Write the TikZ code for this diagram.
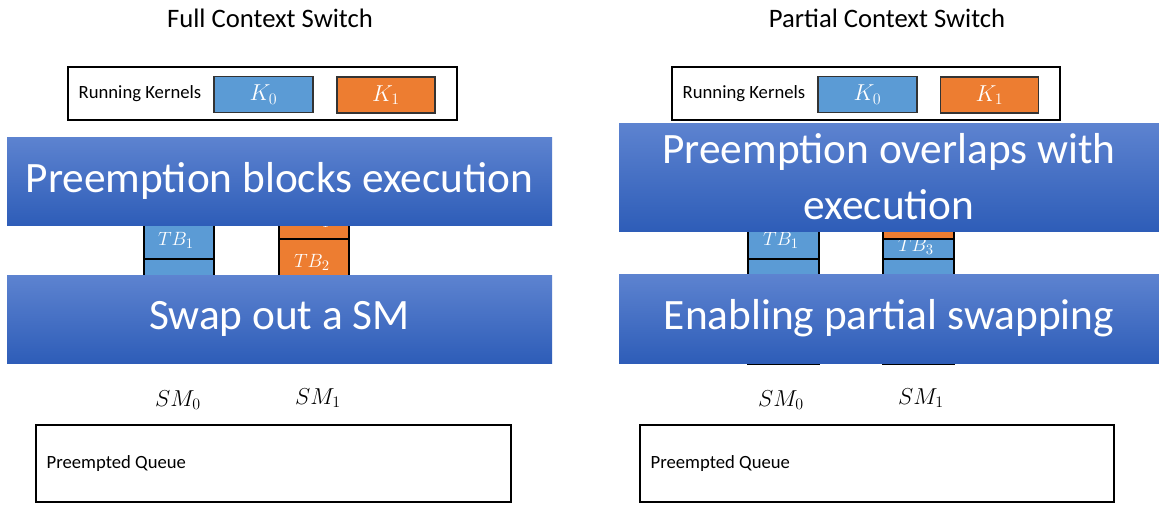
\documentclass[tikz,border=0pt]{standalone}
\usepackage{fontspec}
\setmainfont{Carlito}
\definecolor{tbblue}{RGB}{91,155,213}
\definecolor{tborange}{RGB}{237,125,49}
\definecolor{bantop}{RGB}{93,131,208}
\definecolor{banbot}{RGB}{46,93,184}
\begin{document}
\begin{tikzpicture}[x=0.75pt,y=-0.75pt,
  titletext/.style={font=\fontsize{20}{24}\selectfont},
  smalltext/.style={font=\fontsize{14}{17}\selectfont},
  framebox/.style={draw=black,line width=0.8pt,fill=white},
  kbox/.style={draw=black!80,line width=0.8pt,text=white,font=\fontsize{18}{21}\selectfont},
  tbblue/.style={draw=black,line width=0.9pt,fill=tbblue},
  tborange/.style={draw=black,line width=0.9pt,fill=tborange},
  tblabel/.style={text=white,font=\fontsize{15.5}{18}\selectfont},
  banner/.style={top color=bantop,bottom color=banbot,draw=none,text=white,
     font=\fontsize{32.5}{42}\selectfont,align=center},
  smlabel/.style={font=\fontsize{16.5}{19}\selectfont}]
\useasboundingbox[fill=white] (0,0) rectangle (1159,507);

% ---------- Left panel ----------
\node[titletext] (tl) at (270,18) {Full Context Switch};
\draw[framebox] (68,67) rectangle (457,120);
\node[smalltext,anchor=west] (rkl) at (74,94) {Running Kernels};
\node[kbox,fill=tbblue,minimum width=99*0.75pt,minimum height=36*0.75pt,inner sep=0pt] (k0l) at (263.5,94.5) {$K_0$};
\node[kbox,fill=tborange,minimum width=98*0.75pt,minimum height=36*0.75pt,inner sep=0pt] (k1l) at (386,95) {$K_1$};

% columns
\draw[tbblue] (144,221) rectangle (214,259);
\node[tblabel] (tb1l) at (176,240) {$TB_1$};
\draw[tbblue] (144,259) rectangle (214,330);
\draw[tborange] (279,201) rectangle (349,239);
\node[tblabel] (tb1lo) at (312,219) {$TB_1$};
\draw[tborange] (279,239) rectangle (349,300);
\node[tblabel] (tb2l) at (312,262) {$TB_2$};

\node[banner,minimum width=545*0.75pt,minimum height=88*0.75pt,inner sep=0pt] (b1l) at (279.5,181) {Preemption blocks execution};
\node[banner,minimum width=545*0.75pt,minimum height=88*0.75pt,inner sep=0pt] (b2l) at (279.5,319) {Swap out a SM};

\node[smlabel] (sm0l) at (178,400) {$SM_0$};
\node[smlabel] (sm1l) at (318,398) {$SM_1$};

\draw[framebox] (36,425) rectangle (511,502);
\node[smalltext,anchor=west] (pql) at (42,464) {Preempted Queue};

% ---------- Right panel ----------
\node[titletext] (tr) at (887,18) {Partial Context Switch};
\draw[framebox] (672,67) rectangle (1060,120);
\node[smalltext,anchor=west] (rkr) at (678,94) {Running Kernels};
\node[kbox,fill=tbblue,minimum width=99*0.75pt,minimum height=36*0.75pt,inner sep=0pt] (k0r) at (867.5,94.5) {$K_0$};
\node[kbox,fill=tborange,minimum width=98*0.75pt,minimum height=36*0.75pt,inner sep=0pt] (k1r) at (989.5,95) {$K_1$};

\draw[tbblue] (748,221) rectangle (819,259);
\node[tblabel] (tb1r) at (781,240) {$TB_1$};
\draw[tbblue] (748,259) rectangle (819,364);
\draw[tbblue] (883,221) rectangle (954,259);
\node[tblabel] (tb3r) at (916,246) {$TB_3$};
\draw[tbblue] (883,259) rectangle (954,364);
\draw[tborange] (883,193) rectangle (954,239);
\node[tblabel] (tbor) at (916,213) {$TB_2$};

\node[banner,minimum width=540*0.75pt,minimum height=108*0.75pt,inner sep=0pt] (b1r) at (889,177) {Preemption overlaps with\\execution};
\node[banner,minimum width=540*0.75pt,minimum height=89*0.75pt,inner sep=0pt] (b2r) at (889,318.5) {Enabling partial swapping};

\node[smlabel] (sm0r) at (781,400) {$SM_0$};
\node[smlabel] (sm1r) at (921,398) {$SM_1$};

\draw[framebox] (640,425) rectangle (1114,502);
\node[smalltext,anchor=west] (pqr) at (646,464) {Preempted Queue};
\end{tikzpicture}
\end{document}
